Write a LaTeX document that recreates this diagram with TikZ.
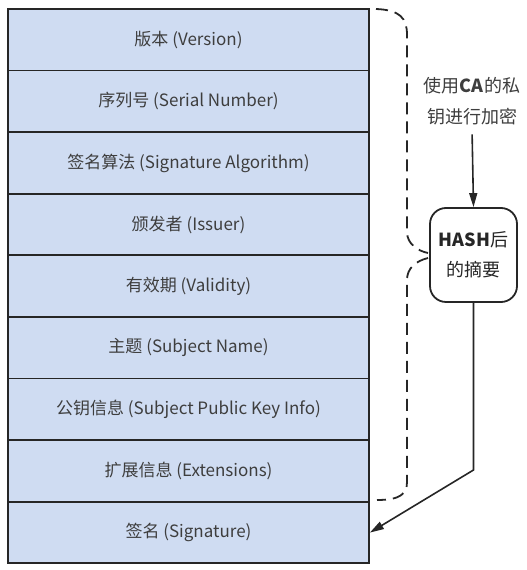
\documentclass[tikz,border=0pt]{standalone}
\usepackage{fontspec}
\setmainfont{Noto Sans CJK SC}
\usetikzlibrary{positioning, arrows.meta}

\definecolor{rowblue}{RGB}{207,220,242}
\definecolor{txtgray}{RGB}{62,62,62}

\begin{document}
\begin{tikzpicture}[x=1pt, y=1pt, node distance=61.6pt, on grid,
    field/.style={draw=black!85, line width=1.8pt, fill=rowblue, minimum width=361pt,
      minimum height=61.6pt, inner sep=0pt, text=txtgray, font=\fontsize{17}{20}\selectfont},
    digest/.style={draw=black!85, line width=1.8pt, rounded corners=16pt, minimum width=87pt,
      minimum height=94pt, inner sep=0pt, align=center, text=black!85,
      font=\fontsize{18}{30}\selectfont},
    brace/.style={draw=black!85, dash pattern=on 12pt off 7pt, line width=1.8pt},
    link/.style={draw=black!85, line width=1.6pt},
    >={Triangle[length=14pt,width=8pt]}]
  \useasboundingbox (0,0) rectangle (527,570);

  % Felder des Zertifikats
  \node[field] (r1) at (188.5,530.2) {版本 (Version)};
  \node[field, below=of r1] (r2) {序列号 (Serial Number)};
  \node[field, below=of r2] (r3) {签名算法 (Signature Algorithm)};
  \node[field, below=of r3] (r4) {颁发者 (Issuer)};
  \node[field, below=of r4] (r5) {有效期 (Validity)};
  \node[field, below=of r5] (r6) {主题 (Subject Name)};
  \node[field, below=of r6] (r7) {公钥信息 (Subject Public Key Info)};
  \node[field, below=of r7] (r8) {扩展信息 (Extensions)};
  \node[field, below=of r8] (r9) {签名 (Signature)};

  % Hash und Verschluesselung
  \node[align=center, text=txtgray, font=\fontsize{18}{31}\selectfont] (note) at (472,469)
    {使用\textbf{CA}的私\\钥进行加密};
  \node[digest] (hash) at (473.5,315) {\textbf{HASH}后\\的摘要};
  \coordinate (bend) at (472.5,100);

  % Klammer
  \draw[brace] (376,561) .. controls (400,560) and (407,552) .. (407,535) -- (407,338)
    .. controls (407,326) and (418,319) .. (428,317);
  \draw[brace] (428,312) .. controls (416,309) and (407,302) .. (407,290) -- (407,88)
    .. controls (407,76) and (400,70) .. (377,70);

  % Pfeile
  \draw[link, ->, shorten <=6pt] (note.south) -- (hash.north);
  \draw[link, ->] (hash.south) -- (hash.south |- bend) -- (r9.east);
\end{tikzpicture}
\end{document}
